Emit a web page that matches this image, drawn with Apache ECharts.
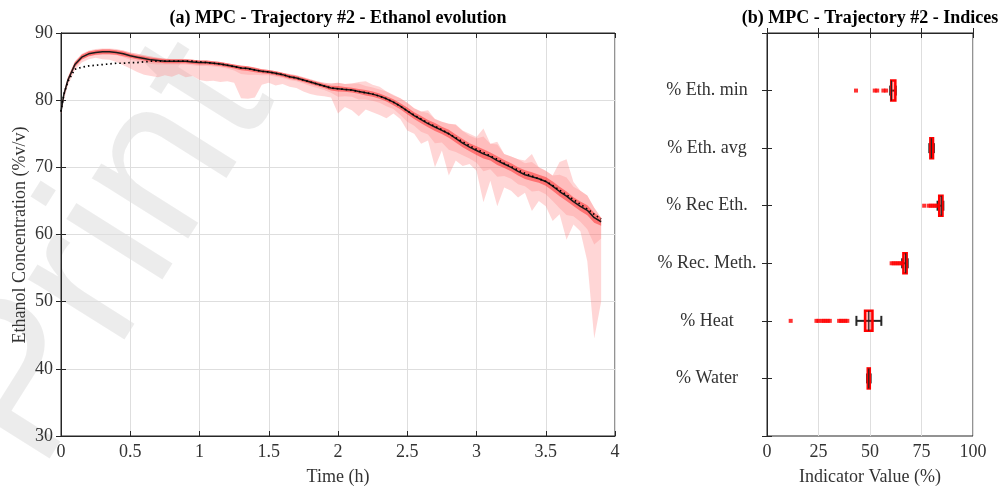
<!DOCTYPE html>
<html><head><meta charset="utf-8">
<script src="https://cdn.jsdelivr.net/npm/echarts@6/dist/echarts.min.js"></script>
<style>html,body{margin:0;padding:0;background:#fff}#c{width:1008px;height:487px}</style>
</head><body><div id="c"></div>
<script>
// ---------- (a) Ethanol evolution ----------
const times = [
  0, 0.02, 0.05, 0.1, 0.15, 0.2, 0.25, 0.3, 0.35, 0.4,
  0.45, 0.5, 0.55, 0.6, 0.65, 0.7, 0.75, 0.8, 0.85, 0.9,
  0.95, 1.0, 1.05, 1.1, 1.15, 1.2, 1.25, 1.3, 1.35, 1.4,
  1.45, 1.5, 1.55, 1.6, 1.65, 1.7, 1.75, 1.8, 1.85, 1.9,
  1.95, 2.0, 2.05, 2.1, 2.15, 2.2, 2.25, 2.3, 2.35, 2.4,
  2.45, 2.5, 2.55, 2.6, 2.65, 2.7, 2.75, 2.8, 2.85, 2.9,
  2.95, 3.0, 3.05, 3.1, 3.15, 3.2, 3.25, 3.3, 3.35, 3.4,
  3.45, 3.5, 3.55, 3.6, 3.65, 3.7, 3.75, 3.8, 3.85, 3.9
];
const meanTraj = [
  78.3, 80.8, 83.0, 85.3, 86.4, 86.9, 87.1, 87.2, 87.2, 87.1,
  86.9, 86.6, 86.4, 86.2, 86.0, 85.9, 85.8, 85.8, 85.8, 85.8,
  85.7, 85.6, 85.6, 85.5, 85.4, 85.2, 85.0, 84.8, 84.7, 84.5,
  84.3, 84.2, 84.0, 83.8, 83.5, 83.3, 83.0, 82.7, 82.4, 82.1,
  81.8, 81.7, 81.6, 81.5, 81.3, 81.1, 80.9, 80.6, 80.2, 79.7,
  79.1, 78.4, 77.7, 77.1, 76.5, 76.0, 75.5, 75.0, 74.3, 73.6,
  73.0, 72.5, 72.0, 71.6, 71.0, 70.5, 70.0, 69.4, 68.9, 68.6,
  68.3, 67.9, 67.2, 66.4, 65.7, 64.9, 64.2, 63.6, 62.5, 61.9
];
const refTraj = [
  78.3, 80.8, 82.8, 84.6, 84.9, 85.1, 85.2, 85.3, 85.4, 85.5,
  85.5, 85.6, 85.6, 85.7, 85.8, 85.8, 85.8, 85.8, 85.8, 85.8,
  85.8, 85.7, 85.6, 85.5, 85.4, 85.2, 85.0, 84.8, 84.7, 84.5,
  84.3, 84.2, 84.0, 83.8, 83.5, 83.3, 83.0, 82.7, 82.4, 82.1,
  81.8, 81.7, 81.6, 81.5, 81.3, 81.1, 80.9, 80.6, 80.2, 79.7,
  79.1, 78.4, 77.8, 77.2, 76.6, 76.1, 75.6, 75.0, 74.4, 73.8,
  73.2, 72.7, 72.2, 71.7, 71.2, 70.6, 70.1, 69.6, 69.1, 68.7,
  68.3, 67.9, 67.3, 66.6, 65.9, 65.2, 64.5, 63.8, 63.0, 62.3
];
const bandMin = [
  77.9, 80.0, 82.2, 84.5, 85.6, 86.1, 86.3, 86.1, 86.0, 85.7,
  85.2, 84.7, 84.2, 83.8, 83.6, 83.4, 83.7, 83.5, 83.9, 83.4,
  83.6, 83.0, 82.8, 82.9, 82.7, 82.8, 82.6, 80.3, 80.2, 80.4,
  82.3, 82.6, 82.2, 82.4, 82.0, 81.8, 81.3, 80.9, 80.7, 80.6,
  80.4, 78.0, 79.0, 78.5, 77.6, 78.6, 78.2, 77.8, 77.3, 78.0,
  77.2, 75.5, 75.0, 73.5, 74.0, 70.0, 72.5, 68.8, 71.0, 70.2,
  70.5, 69.5, 64.8, 68.0, 64.2, 67.0, 66.5, 65.5, 66.2, 63.5,
  65.0, 64.2, 62.0, 63.0, 59.2, 61.5, 60.5, 56.0, 44.5, 50.0
];
const bandMax = [
  78.6, 81.2, 83.5, 85.8, 86.9, 87.4, 87.6, 87.7, 87.7, 87.6,
  87.4, 87.1, 86.9, 86.7, 86.5, 86.3, 86.2, 86.1, 86.1, 86.1,
  86.0, 85.9, 85.9, 85.8, 85.7, 85.5, 85.3, 85.1, 85.0, 84.8,
  84.6, 84.5, 84.3, 84.1, 83.9, 83.7, 83.4, 83.1, 82.8, 82.6,
  82.5, 82.6, 82.4, 82.5, 82.7, 82.8, 82.3, 82.0, 81.3, 80.8,
  80.3, 79.6, 78.8, 78.3, 78.5, 77.2, 76.8, 76.5, 76.4, 75.5,
  75.0, 74.5, 75.8, 73.5, 73.8, 72.0, 71.6, 71.2, 71.0, 72.0,
  70.0, 69.5, 68.8, 70.8, 71.2, 67.8, 66.5, 65.8, 64.0, 62.5
];
const midSpread = [
  0.3, 0.4, 0.4, 0.4, 0.4, 0.4, 0.4, 0.4, 0.4, 0.4,
  0.5, 0.6, 0.6, 0.6, 0.6, 0.6, 0.5, 0.5, 0.5, 0.5,
  0.5, 0.5, 0.5, 0.5, 0.5, 0.5, 0.6, 0.9, 0.9, 0.7,
  0.6, 0.5, 0.5, 0.5, 0.5, 0.5, 0.5, 0.6, 0.6, 0.6,
  0.7, 1.2, 1.0, 1.0, 1.2, 1.0, 1.0, 1.0, 1.1, 1.0,
  1.3, 1.6, 1.5, 1.8, 1.6, 2.4, 1.8, 2.4, 2.0, 1.8,
  1.7, 1.8, 2.6, 1.9, 2.4, 1.8, 1.7, 1.9, 1.7, 2.2,
  1.8, 1.9, 2.2, 2.5, 2.8, 2.2, 2.3, 2.8, 4.0, 2.5
];
const innerSpread = [
  0.2, 0.3, 0.35, 0.35, 0.35, 0.35, 0.35, 0.35, 0.35, 0.35,
  0.35, 0.3, 0.3, 0.3, 0.3, 0.3, 0.3, 0.3, 0.3, 0.3,
  0.3, 0.3, 0.3, 0.3, 0.3, 0.3, 0.3, 0.35, 0.35, 0.35,
  0.3, 0.3, 0.3, 0.3, 0.3, 0.3, 0.3, 0.3, 0.3, 0.3,
  0.35, 0.4, 0.35, 0.35, 0.35, 0.4, 0.4, 0.4, 0.4, 0.45,
  0.45, 0.5, 0.5, 0.55, 0.55, 0.6, 0.55, 0.6, 0.6, 0.6,
  0.6, 0.65, 0.7, 0.6, 0.65, 0.6, 0.6, 0.6, 0.65, 0.65,
  0.6, 0.65, 0.7, 0.7, 0.7, 0.65, 0.7, 0.75, 0.75, 0.6
];
const timeTicks = [0, 4, 0.5];      // min, max, interval
const concTicks = [30, 90, 10];

// ---------- (b) Indices ----------
const indexNames = ['% Eth. min', '% Eth. avg', '% Rec Eth.', '% Rec. Meth.', '% Heat', '% Water'];
const whiskerLow  = [59.8, 78.8, 82.8, 65.6, 43.4, 48.6];
const q1Vals      = [60.3, 79.3, 83.6, 66.2, 47.6, 48.9];
const medianVals  = [60.4, 79.8, 84.6, 67.3, 49.4, 49.4];
const q3Vals      = [62.3, 80.6, 85.2, 67.8, 51.2, 49.9];
const whiskerHigh = [62.5, 81.0, 85.6, 68.3, 55.5, 50.3];
const outliers = [
  [43.2, 52.3, 53.5, 56.5, 57.8],
  [],
  [76.3, 78.5, 79.5, 80.5, 81.5, 82.5],
  [60.5, 61.5, 62.5, 63.5, 64.5, 65.5],
  [11.5, 24, 25, 26.5, 27.5, 28.5, 29.5, 30.5, 35, 36, 37, 38, 39],
  []
];
const indexTicks = [0, 100, 25];

const FONT = 'Liberation Serif';
const FS = 18;
const LBL = '#333333';
const AX = '#262626';

function bandPolygon(lo, hi, fill) {
  return {
    type: 'custom', xAxisIndex: 0, yAxisIndex: 0, clip: true, silent: true, z: 1,
    data: [[times[0], meanTraj[0]]],
    encode: { x: 0, y: 1 },
    renderItem: function (params, api) {
      const pts = [];
      for (let i = 0; i < times.length; i++) pts.push(api.coord([times[i], hi(i)]));
      for (let i = times.length - 1; i >= 0; i--) pts.push(api.coord([times[i], lo(i)]));
      return { type: 'polygon', shape: { points: pts }, style: { fill: fill } };
    }
  };
}

const boxData = indexNames.map((n, i) => [i + 1, whiskerLow[i], q1Vals[i], medianVals[i], q3Vals[i], whiskerHigh[i]]);
const outlierData = [];
outliers.forEach((arr, i) => arr.forEach(v => outlierData.push([v, i + 1])));

const baseAxis = {
  axisLine: { show: true, lineStyle: { color: AX, width: 1 } },
  axisTick: { show: true, inside: true, length: 5, lineStyle: { color: AX } },
  axisLabel: { color: LBL, fontFamily: FONT, fontSize: FS, margin: 7 },
  splitLine: { show: false }
};
function ax(extra) { return Object.assign({}, JSON.parse(JSON.stringify(baseAxis)), extra); }

const option = {
  backgroundColor: '#ffffff',
  animation: false,
  grid: [
    { left: 61, right: 393, top: 33, bottom: 51, show: true, borderColor: AX, borderWidth: 1, containLabel: false },
    { left: 767, right: 35, top: 33, bottom: 51, show: true, borderColor: AX, borderWidth: 1, containLabel: false }
  ],
  xAxis: [
    ax({ gridIndex: 0, type: 'value', min: timeTicks[0], max: timeTicks[1], interval: timeTicks[2], position: 'bottom',
         splitLine: { show: true, lineStyle: { color: '#dedede', width: 1 } } }),
    ax({ gridIndex: 0, type: 'value', min: timeTicks[0], max: timeTicks[1], interval: timeTicks[2], position: 'top',
         axisLabel: { show: false } }),
    ax({ gridIndex: 1, type: 'value', min: indexTicks[0], max: indexTicks[1], interval: indexTicks[2], position: 'bottom',
         splitLine: { show: true, lineStyle: { color: '#dedede', width: 1 } } }),
    ax({ gridIndex: 1, type: 'value', min: indexTicks[0], max: indexTicks[1], interval: indexTicks[2], position: 'top',
         axisLabel: { show: false } })
  ],
  yAxis: [
    ax({ gridIndex: 0, type: 'value', min: concTicks[0], max: concTicks[1], interval: concTicks[2], position: 'left',
         axisLabel: { color: LBL, fontFamily: FONT, fontSize: FS, margin: 8 },
         splitLine: { show: true, lineStyle: { color: '#dedede', width: 1 } } }),
    ax({ gridIndex: 0, type: 'value', min: concTicks[0], max: concTicks[1], interval: concTicks[2], position: 'right',
         axisLabel: { show: false } }),
    ax({ gridIndex: 1, type: 'value', min: 0, max: indexNames.length + 1, interval: 1, inverse: true, position: 'left',
         axisLabel: { color: LBL, fontFamily: FONT, fontSize: FS, margin: 60, align: 'center',
                      formatter: v => indexNames[v - 1] || '' } }),
    ax({ gridIndex: 1, type: 'value', min: 0, max: indexNames.length + 1, interval: 1, inverse: true, position: 'right',
         axisLabel: { show: false } })
  ],
  graphic: [
    { type: 'text', x: -10, y: 442, rotation: 57.8 * Math.PI / 180, z: 0, silent: true,
      style: { text: 'Print', font: '215px "Liberation Sans"', fill: 'rgba(0,0,0,0.075)', textAlign: 'left', textVerticalAlign: 'middle' } },
    { type: 'text', x: 338, y: 18, z: 10,
      style: { text: '(a) MPC - Trajectory #2 - Ethanol evolution', font: 'bold 18px "Liberation Serif"', fill: '#000', textAlign: 'center', textVerticalAlign: 'middle' } },
    { type: 'text', x: 870, y: 18, z: 10,
      style: { text: '(b) MPC - Trajectory #2 - Indices', font: 'bold 18px "Liberation Serif"', fill: '#000', textAlign: 'center', textVerticalAlign: 'middle' } },
    { type: 'text', x: 338, y: 477, z: 10,
      style: { text: 'Time (h)', font: '18px "Liberation Serif"', fill: LBL, textAlign: 'center', textVerticalAlign: 'middle' } },
    { type: 'text', x: 870, y: 477, z: 10,
      style: { text: 'Indicator Value (%)', font: '18px "Liberation Serif"', fill: LBL, textAlign: 'center', textVerticalAlign: 'middle' } },
    { type: 'text', x: 20, y: 235, rotation: Math.PI / 2, z: 10,
      style: { text: 'Ethanol Concentration (%v/v)', font: '18px "Liberation Serif"', fill: LBL, textAlign: 'center', textVerticalAlign: 'middle' } }
  ],
  series: [
    bandPolygon(i => bandMin[i], i => bandMax[i], 'rgba(255,120,120,0.3)'),
    bandPolygon(i => Math.max(bandMin[i], meanTraj[i] - midSpread[i]), i => Math.min(bandMax[i], meanTraj[i] + midSpread[i]), 'rgba(255,100,100,0.22)'),
    bandPolygon(i => meanTraj[i] - innerSpread[i], i => meanTraj[i] + innerSpread[i], 'rgba(255,20,20,0.45)'),
    { type: 'line', xAxisIndex: 0, yAxisIndex: 0, z: 3, showSymbol: false, silent: true,
      data: times.map((t, i) => [t, meanTraj[i]]),
      lineStyle: { color: '#1a1a1a', width: 1.5 } },
    { type: 'line', xAxisIndex: 0, yAxisIndex: 0, z: 4, showSymbol: false, silent: true,
      data: times.map((t, i) => [t, refTraj[i]]),
      lineStyle: { color: '#000000', width: 1.7, type: [1.5, 3] } },
    { type: 'custom', xAxisIndex: 2, yAxisIndex: 2, z: 3, silent: true,
      data: boxData,
      encode: { x: [1, 2, 3, 4, 5], y: 0 },
      renderItem: function (params, api) {
        const y = api.value(0);
        const p = k => api.coord([api.value(k), y]);
        const lo = p(1), a = p(2), m = p(3), b = p(4), hi = p(5);
        const h = 20, cap = 5;
        return { type: 'group', children: [
          { type: 'line', shape: { x1: lo[0], y1: lo[1], x2: hi[0], y2: hi[1] }, style: { stroke: AX, lineWidth: 2 } },
          { type: 'line', shape: { x1: lo[0], y1: lo[1] - cap, x2: lo[0], y2: lo[1] + cap }, style: { stroke: AX, lineWidth: 2 } },
          { type: 'line', shape: { x1: hi[0], y1: hi[1] - cap, x2: hi[0], y2: hi[1] + cap }, style: { stroke: AX, lineWidth: 2 } },
          { type: 'rect', shape: { x: a[0], y: a[1] - h / 2, width: b[0] - a[0], height: h },
            style: { fill: 'rgba(255,0,0,0.3)', stroke: '#ff0000', lineWidth: 2.5 } },
          { type: 'line', shape: { x1: m[0], y1: m[1] - h / 2, x2: m[0], y2: m[1] + h / 2 }, style: { stroke: AX, lineWidth: 1.2 } }
        ] };
      } },
    { type: 'scatter', xAxisIndex: 2, yAxisIndex: 2, z: 4, silent: true,
      data: outlierData, symbol: 'rect', symbolSize: 4,
      itemStyle: { color: '#ff0000' } }
  ]
};
const chart = echarts.init(document.getElementById('c'), null, { renderer: 'canvas' });
chart.setOption(option);
</script>
</body></html>
